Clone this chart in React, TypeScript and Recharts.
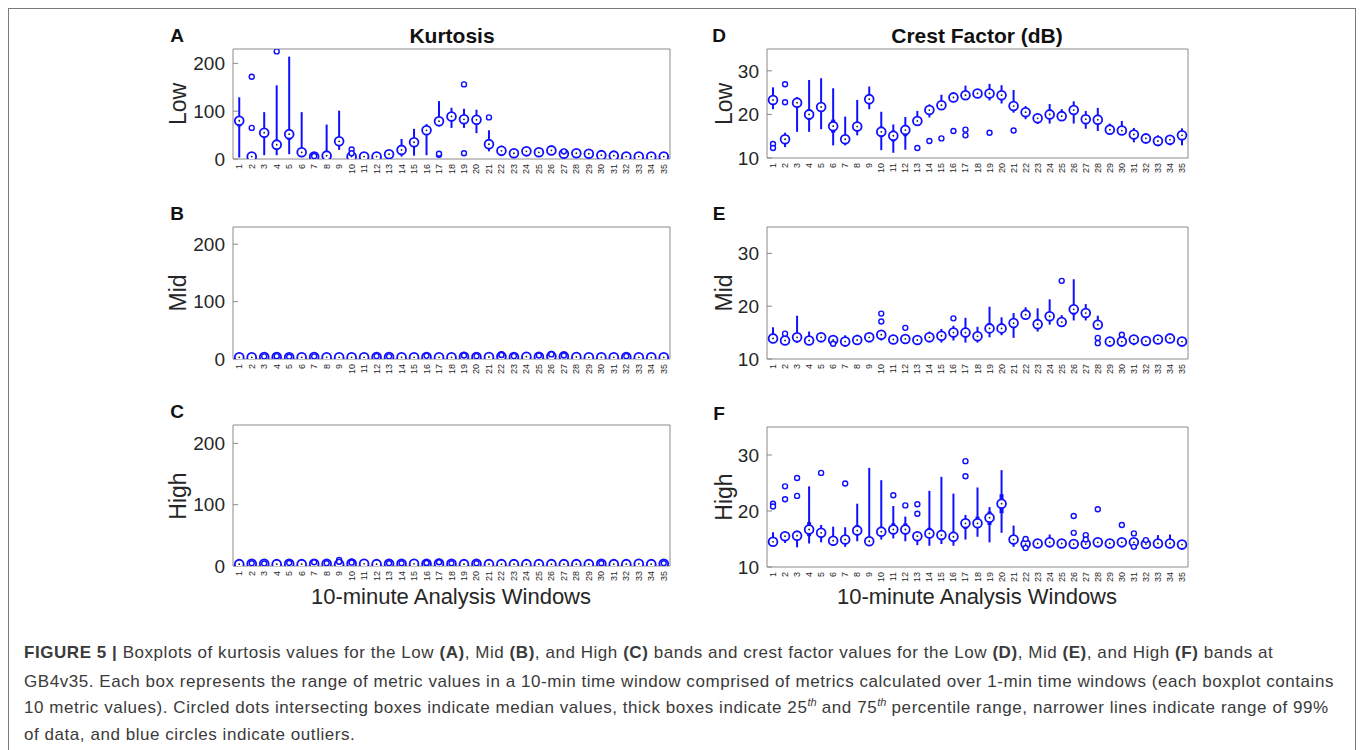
import React from "react";
import { ComposedChart, Scatter, ErrorBar, XAxis, YAxis } from "recharts";

// ---------- data ----------
const windows = Array.from({ length: 35 }, (_, i) => i + 1);
const kurtTicks = [0, 100, 200];
const crestTicks = [10, 20, 30];

// A: Kurtosis, Low band
const kLowMed = [80, 5, 55, 30, 52, 14, 5, 7, 37, 5, 5, 5, 10, 19, 35, 60, 79, 89, 83, 82, 31, 17, 12, 16, 14, 18, 11, 12, 11, 8, 7, 5, 5, 5, 5];
const kLowLo = [3, 2, 8, 8, 10, 8, 2, 2, 19, 2, 2, 3, 5, 5, 7, 8, 68, 65, 65, 54, 16, 11, 9, 11, 10, 13, 8, 9, 8, 6, 5, 3, 3, 3, 3];
const kLowHi = [129, 8, 98, 154, 214, 98, 6, 72, 101, 8, 7, 7, 15, 42, 63, 73, 121, 107, 105, 103, 60, 28, 15, 21, 18, 24, 15, 16, 14, 11, 9, 7, 7, 7, 7];
const kLowQ1 = [68, 3, 45, 20, 40, 10, 3, 5, 30, 3, 3, 4, 8, 14, 28, 50, 72, 80, 75, 72, 25, 15, 11, 14, 12, 16, 10, 11, 10, 7, 6, 4, 4, 4, 4];
const kLowQ3 = [88, 7, 62, 40, 60, 18, 6, 10, 45, 6, 6, 6, 12, 24, 42, 68, 88, 96, 92, 90, 38, 20, 13, 18, 16, 20, 13, 13, 12, 9, 8, 6, 6, 6, 6];
const kLowOut = [[2, 65], [2, 172], [4, 225], [7, 8], [7, 6], [10, 20], [10, 12], [17, 9], [17, 11], [19, 156], [19, 12], [21, 87], [27, 16]];

// B: Kurtosis, Mid band
const kMidMed = [3, 3, 3.5, 3.5, 3, 3, 3.5, 3, 3, 3, 3, 3.5, 3.5, 3, 3, 3.5, 3, 3, 4, 3.5, 3.5, 4.5, 3.5, 4, 4, 5, 4.5, 3.5, 3, 3, 3, 3.5, 3, 3, 3];
const kMidLo = [2.5, 2.5, 2.8, 2.8, 2.5, 2.5, 2.8, 2.5, 2.5, 2.5, 2.5, 2.8, 2.8, 2.5, 2.5, 2.8, 2.5, 2.5, 3, 2.8, 2.8, 3.5, 2.8, 3, 3, 3.5, 3.5, 2.8, 2.5, 2.5, 2.5, 2.8, 2.5, 2.5, 2.5];
const kMidHi = [4, 4, 5, 5, 4.5, 4, 5, 4, 4, 4, 4, 5, 5, 4, 4, 5, 4, 4, 5.5, 5, 5, 6, 5, 5.5, 5.5, 7, 6, 5, 4, 4, 4, 5, 4, 4, 4];
const kMidQ1 = [2.8, 2.8, 3.2, 3.2, 2.8, 2.8, 3.2, 2.8, 2.8, 2.8, 2.8, 3.2, 3.2, 2.8, 2.8, 3.2, 2.8, 2.8, 3.5, 3.2, 3.2, 4, 3.2, 3.5, 3.5, 4.2, 4, 3.2, 2.8, 2.8, 2.8, 3.2, 2.8, 2.8, 2.8];
const kMidQ3 = [3.3, 3.3, 4, 4, 3.5, 3.3, 4, 3.3, 3.3, 3.3, 3.3, 4, 4, 3.3, 3.3, 4, 3.3, 3.3, 4.6, 4, 4, 5.2, 4, 4.6, 4.6, 6, 5.2, 4, 3.3, 3.3, 3.3, 4, 3.3, 3.3, 3.3];
const kMidOut = [[3, 4.5], [4, 4], [4, 5], [5, 4], [7, 4.5], [12, 5], [13, 4.5], [16, 5.5], [19, 7], [19, 6], [20, 5], [22, 8], [22, 7], [23, 5], [25, 6], [26, 9], [26, 8], [27, 6], [32, 5]];

// C: Kurtosis, High band
const kHighMed = [3, 3.5, 3.5, 3, 3.5, 3, 3.5, 3.5, 3, 4, 3.5, 3, 3.5, 3.5, 3.5, 3.5, 4, 3.5, 3, 3.5, 3, 3, 3, 3, 3, 3, 3, 3, 3, 3.5, 3, 3, 3.5, 3, 3.5];
const kHighLo = [2.5, 2.8, 2.8, 2.5, 2.8, 2.5, 2.8, 2.8, 2.5, 3, 2.8, 2.5, 2.8, 2.8, 2.8, 2.8, 3, 2.8, 2.5, 2.8, 2.5, 2.5, 2.5, 2.5, 2.5, 2.5, 2.5, 2.5, 2.5, 2.8, 2.5, 2.5, 2.8, 2.5, 2.8];
const kHighHi = [4, 4.5, 4.5, 4, 4.5, 4, 5, 4.5, 4.5, 5.5, 4.5, 4, 4.5, 4.5, 4.5, 4.5, 5.5, 4.5, 4, 4.5, 4, 4, 4, 4, 4, 4, 4, 4, 4, 4.5, 4, 4, 4.5, 4, 4.5];
const kHighQ1 = [2.8, 3.2, 3.2, 2.8, 3.2, 2.8, 3.2, 3.2, 2.8, 3.5, 3.2, 2.8, 3.2, 3.2, 3.2, 3.2, 3.5, 3.2, 2.8, 3.2, 2.8, 2.8, 2.8, 2.8, 2.8, 2.8, 2.8, 2.8, 2.8, 3.2, 2.8, 2.8, 3.2, 2.8, 3.2];
const kHighQ3 = [3.3, 4, 4, 3.3, 4, 3.3, 4.2, 4, 3.6, 4.6, 4, 3.3, 4, 4, 4, 4, 4.6, 4, 3.3, 4, 3.3, 3.3, 3.3, 3.3, 3.3, 3.3, 3.3, 3.3, 3.3, 4, 3.3, 3.3, 4, 3.3, 4];
const kHighOut = [[2, 4.5], [3, 4], [5, 5], [7, 6], [8, 4.5], [9, 10], [9, 7], [10, 7], [10, 5.5], [13, 4.5], [14, 4.5], [16, 4.5], [16, 5], [17, 7], [17, 6], [18, 4.5], [20, 4.5], [30, 4.5], [35, 4.5]];

// D: Crest factor, Low band
const cLowMed = [23.3, 14.3, 22.7, 20.0, 21.7, 17.3, 14.3, 17.2, 23.5, 16.0, 15.1, 16.4, 18.5, 21.0, 22.1, 23.9, 24.4, 24.8, 24.8, 24.4, 21.9, 20.5, 19.1, 20.0, 19.6, 21.0, 18.9, 18.8, 16.5, 16.3, 15.4, 14.5, 13.9, 14.2, 15.2];
const cLowLo = [21.2, 12.5, 16.0, 16.0, 16.6, 12.9, 12.9, 15.2, 21.2, 11.8, 11.2, 11.9, 17.5, 19.3, 21.2, 22.9, 23.5, 23.9, 23.2, 22.5, 20.4, 18.9, 17.8, 17.9, 18.5, 17.9, 16.7, 16.2, 15.9, 15.4, 13.6, 13.3, 12.7, 12.9, 12.9];
const cLowHi = [26.2, 15.8, 23.9, 27.9, 28.3, 26.0, 19.5, 23.3, 26.4, 20.6, 17.7, 19.4, 20.8, 22.3, 24.5, 24.7, 26.6, 25.6, 27.0, 26.7, 25.6, 21.9, 20.2, 22.4, 21.2, 23.0, 20.8, 21.5, 17.9, 18.5, 16.9, 15.6, 15.2, 15.1, 16.8];
const cLowQ1 = [22.5, 13.6, 21.8, 18.8, 20.8, 15.8, 13.6, 16.4, 22.7, 14.8, 13.8, 15.0, 17.9, 20.4, 21.6, 23.4, 23.9, 24.4, 24.2, 23.6, 21.2, 19.9, 18.6, 19.3, 19.1, 20.0, 18.1, 17.9, 16.1, 15.9, 14.9, 14.0, 13.5, 13.8, 14.5];
const cLowQ3 = [24.1, 15.0, 23.3, 21.2, 22.6, 18.8, 15.0, 18.3, 24.3, 17.2, 16.3, 17.6, 19.2, 21.6, 22.7, 24.4, 25.0, 25.2, 25.5, 25.2, 22.8, 21.1, 19.6, 20.8, 20.1, 21.9, 19.7, 19.8, 17.0, 16.9, 16.0, 15.0, 14.4, 14.6, 16.0];
const cLowOut = [[1, 13.2], [1, 12.3], [2, 26.9], [2, 22.8], [13, 12.3], [14, 13.9], [15, 14.5], [16, 16.2], [17, 16.5], [17, 15.2], [19, 15.8], [21, 16.3]];

// E: Crest factor, Mid band
const cMidMed = [13.9, 13.5, 14.1, 13.5, 14.1, 13.6, 13.3, 13.6, 14.1, 14.6, 13.7, 13.8, 13.6, 14.1, 14.4, 15.0, 15.0, 14.3, 15.8, 15.8, 16.8, 18.4, 16.6, 18.1, 17.0, 19.4, 18.7, 16.5, 13.3, 13.3, 13.7, 13.4, 13.7, 13.9, 13.3];
const cMidLo = [13.4, 13.0, 13.1, 13.0, 13.6, 13.2, 12.9, 12.9, 13.6, 13.5, 13.1, 13.3, 13.2, 13.5, 13.1, 13.5, 13.1, 13.1, 14.1, 14.5, 14.0, 17.9, 15.2, 16.5, 16.3, 17.3, 17.3, 15.7, 13.0, 12.9, 12.6, 13.0, 13.3, 13.5, 13.0];
const cMidHi = [16.0, 14.3, 18.2, 15.2, 15.0, 14.0, 14.5, 14.6, 15.0, 15.5, 14.6, 14.3, 14.2, 15.2, 15.7, 16.3, 17.8, 16.1, 19.9, 17.9, 18.7, 19.8, 19.6, 21.3, 18.3, 25.1, 20.4, 18.2, 13.7, 13.7, 14.3, 13.8, 14.2, 14.2, 13.6];
const cMidQ1 = [13.6, 13.2, 13.7, 13.2, 13.8, 13.4, 13.1, 13.3, 13.8, 14.1, 13.4, 13.5, 13.4, 13.8, 14.0, 14.4, 14.3, 13.8, 14.9, 15.2, 16.0, 17.9, 15.9, 17.3, 16.6, 18.4, 18.1, 16.0, 13.1, 13.1, 13.4, 13.2, 13.5, 13.7, 13.1];
const cMidQ3 = [14.3, 13.8, 14.6, 13.8, 14.4, 13.8, 13.6, 13.9, 14.4, 15.1, 14.0, 14.1, 13.9, 14.4, 14.9, 15.6, 15.9, 14.9, 16.8, 16.6, 17.6, 19.0, 17.3, 18.9, 17.5, 20.2, 19.3, 17.2, 13.5, 13.5, 14.0, 13.6, 13.9, 14.1, 13.5];
const cMidOut = [[2, 14.8], [6, 12.9], [10, 18.6], [10, 17.1], [12, 15.9], [16, 17.7], [25, 24.8], [28, 14.0], [28, 13.0], [30, 14.6]];

// F: Crest factor, High band
const cHighMed = [14.5, 15.5, 15.6, 16.7, 16.1, 14.7, 14.9, 16.5, 14.6, 16.3, 16.7, 16.7, 15.5, 16.0, 15.7, 15.4, 17.8, 17.8, 18.8, 21.3, 14.9, 14.1, 14.2, 14.4, 14.2, 14.1, 14.1, 14.4, 14.2, 14.4, 14.4, 14.1, 14.2, 14.2, 14.0];
const cHighLo = [13.9, 14.3, 13.5, 14.2, 14.4, 13.8, 13.6, 14.6, 13.8, 14.9, 15.1, 14.6, 13.9, 13.8, 14.1, 13.8, 14.9, 15.4, 14.4, 16.1, 13.6, 13.7, 13.8, 13.9, 13.8, 13.8, 13.8, 13.9, 13.8, 13.9, 13.9, 13.8, 13.8, 13.8, 13.7];
const cHighHi = [16.2, 16.3, 16.0, 24.4, 17.5, 17.2, 17.1, 21.3, 27.7, 25.5, 20.9, 19.0, 16.3, 23.6, 26.1, 23.1, 19.3, 24.2, 20.7, 27.3, 17.4, 14.8, 14.8, 15.8, 14.9, 14.5, 14.5, 14.8, 14.9, 14.8, 14.8, 14.5, 15.7, 15.8, 14.3];
const cHighQ1 = [14.1, 14.9, 15.0, 15.5, 15.5, 14.3, 14.4, 15.8, 14.2, 15.6, 16.0, 15.9, 15.0, 15.2, 15.0, 14.7, 16.8, 17.0, 17.5, 19.6, 14.3, 13.9, 14.0, 14.1, 14.0, 14.0, 14.0, 14.1, 14.0, 14.1, 14.1, 13.9, 14.0, 14.0, 13.8];
const cHighQ3 = [15.0, 16.0, 16.2, 18.0, 16.7, 15.3, 15.5, 17.5, 15.4, 17.2, 17.8, 17.8, 16.1, 17.0, 16.6, 16.3, 18.5, 19.0, 19.9, 23.0, 15.5, 14.4, 14.5, 14.8, 14.5, 14.3, 14.3, 14.6, 14.5, 14.7, 14.7, 14.3, 14.6, 14.6, 14.2];
const cHighOut = [[1, 21.3], [1, 20.8], [2, 24.4], [2, 22.1], [3, 25.9], [3, 22.7], [5, 26.8], [7, 24.9], [11, 22.8], [12, 21.0], [13, 21.2], [13, 19.5], [17, 28.9], [17, 26.2], [22, 15.0], [22, 13.4], [26, 19.1], [26, 16.1], [27, 15.7], [27, 14.9], [28, 20.3], [30, 17.5], [31, 16.0], [31, 13.6], [32, 14.8]];

// ---------- styles ----------
const BLUE = "#1010ff";
const FRAME = "#8a8a8a";
const TEXT = "#262626";
const FONT = "'Liberation Sans', Arial, Helvetica, sans-serif";

const MedianDot = (props: any) => {
  const { cx, cy } = props;
  if (cx == null || cy == null) return null;
  return (
    <g>
      <circle cx={cx} cy={cy} r={4.4} fill="#ffffff" stroke={BLUE} strokeWidth={1.8} />
      <circle cx={cx} cy={cy} r={0.9} fill="#222" />
    </g>
  );
};

const OutDot = (props: any) => {
  const { cx, cy } = props;
  if (cx == null || cy == null) return null;
  return <circle cx={cx} cy={cy} r={2.5} fill="#ffffff" stroke={BLUE} strokeWidth={1.4} />;
};

const NoDot = () => null;

const XTick = (props: any) => {
  const { x, y, payload } = props;
  return (
    <text
      x={x}
      y={y}
      transform={`rotate(-90 ${x} ${y})`}
      textAnchor="end"
      dominantBaseline="central"
      fontSize={9}
      fontFamily={FONT}
      fill={TEXT}
    >
      {payload.value}
    </text>
  );
};

type PanelCfg = {
  axL: number; axR: number; axT: number; axB: number;
  domain: [number, number]; ticks: number[];
  med: number[]; lo: number[]; hi: number[]; q1: number[]; q3: number[];
  out: number[][];
};

const Panel = ({ cfg }: { cfg: PanelCfg }) => {
  const { axL, axR, axT, axB, domain, ticks, med, lo, hi, q1, q3, out } = cfg;
  const YW = 60;
  const XH = 30;
  const width = YW + (axR - axL) + 2;
  const height = 1 + (axB - axT) + XH;
  const data = windows.map((w, i) => ({
    x: w,
    med: med[i],
    wErr: [med[i] - lo[i], hi[i] - med[i]],
    bErr: [med[i] - q1[i], q3[i] - med[i]],
  }));
  const outData = out.map(([w, v]) => ({ x: w, y: v }));
  return (
    <div style={{ position: "absolute", left: axL - YW, top: axT - 1 }}>
      <ComposedChart width={width} height={height} margin={{ top: 0, right: 1, left: 0, bottom: 0 }}>
        <XAxis
          xAxisId="b"
          dataKey="x"
          type="number"
          domain={[0.5, 35.5]}
          allowDataOverflow
          ticks={windows}
          interval={0}
          tickSize={0}
          tickMargin={5}
          tick={<XTick />}
          axisLine={{ stroke: FRAME }}
          tickLine={false}
          height={XH}
        />
        <XAxis
          xAxisId="t"
          dataKey="x"
          orientation="top"
          type="number"
          domain={[0.5, 35.5]}
          allowDataOverflow
          tick={false}
          tickLine={false}
          height={1}
          axisLine={{ stroke: FRAME }}
        />
        <YAxis
          yAxisId="l"
          type="number"
          domain={domain}
          allowDataOverflow
          ticks={ticks}
          width={YW}
          tickSize={-5}
          tickMargin={13}
          tickLine={{ stroke: FRAME }}
          axisLine={{ stroke: FRAME }}
          tick={{ fontSize: 19, fill: TEXT, fontFamily: FONT }}
        />
        <YAxis
          yAxisId="r"
          orientation="right"
          type="number"
          domain={domain}
          allowDataOverflow
          ticks={ticks}
          width={1}
          tickSize={-5}
          tickLine={{ stroke: FRAME }}
          axisLine={{ stroke: FRAME }}
          tick={false}
        />
        {/* invisible series tying the frame axes to the data */}
        <Scatter xAxisId="t" yAxisId="r" data={data} dataKey="med" shape={NoDot} isAnimationActive={false} />
        <Scatter xAxisId="b" yAxisId="l" data={data} dataKey="med" shape={MedianDot} isAnimationActive={false}>
          <ErrorBar dataKey="wErr" direction="y" width={0} strokeWidth={2} stroke={BLUE} isAnimationActive={false} />
          <ErrorBar dataKey="bErr" direction="y" width={0} strokeWidth={4} stroke={BLUE} isAnimationActive={false} />
        </Scatter>
        <Scatter xAxisId="b" yAxisId="l" data={outData} dataKey="y" shape={OutDot} isAnimationActive={false} />
      </ComposedChart>
    </div>
  );
};

const Abs = ({ x, y, children, style }: any) => (
  <div
    style={{
      position: "absolute",
      left: x,
      top: y,
      transform: "translate(-50%, -50%)",
      whiteSpace: "nowrap",
      fontFamily: FONT,
      lineHeight: 1,
      ...style,
    }}
  >
    {children}
  </div>
);

const RotLabel = ({ x, y, text }: any) => (
  <div
    style={{
      position: "absolute",
      left: x,
      top: y,
      transform: "translate(-50%, -50%) rotate(-90deg)",
      whiteSpace: "nowrap",
      fontFamily: FONT,
      fontSize: 23,
      lineHeight: 1,
      color: TEXT,
    }}
  >
    {text}
  </div>
);

const panels: { cfg: PanelCfg; letter: string; band: string }[] = [
  { letter: "A", band: "Low", cfg: { axL: 233, axR: 670, axT: 49, axB: 159, domain: [0, 230], ticks: kurtTicks, med: kLowMed, lo: kLowLo, hi: kLowHi, q1: kLowQ1, q3: kLowQ3, out: kLowOut } },
  { letter: "B", band: "Mid", cfg: { axL: 233, axR: 670, axT: 227, axB: 359, domain: [0, 230], ticks: kurtTicks, med: kMidMed, lo: kMidLo, hi: kMidHi, q1: kMidQ1, q3: kMidQ3, out: kMidOut } },
  { letter: "C", band: "High", cfg: { axL: 233, axR: 670, axT: 425, axB: 566, domain: [0, 230], ticks: kurtTicks, med: kHighMed, lo: kHighLo, hi: kHighHi, q1: kHighQ1, q3: kHighQ3, out: kHighOut } },
  { letter: "D", band: "Low", cfg: { axL: 767, axR: 1188, axT: 49, axB: 158, domain: [10, 35], ticks: crestTicks, med: cLowMed, lo: cLowLo, hi: cLowHi, q1: cLowQ1, q3: cLowQ3, out: cLowOut } },
  { letter: "E", band: "Mid", cfg: { axL: 767, axR: 1188, axT: 227, axB: 359, domain: [10, 35], ticks: crestTicks, med: cMidMed, lo: cMidLo, hi: cMidHi, q1: cMidQ1, q3: cMidQ3, out: cMidOut } },
  { letter: "F", band: "High", cfg: { axL: 767, axR: 1188, axT: 427, axB: 567, domain: [10, 35], ticks: crestTicks, med: cHighMed, lo: cHighLo, hi: cHighHi, q1: cHighQ1, q3: cHighQ3, out: cHighOut } },
];

const captionStyle: React.CSSProperties = {
  position: "absolute",
  left: 24,
  whiteSpace: "nowrap",
  fontFamily: FONT,
  fontSize: 17,
  letterSpacing: "0.55px",
  lineHeight: "20px",
  color: "#3a3a3a",
};

const supStyle: React.CSSProperties = { fontSize: 11, fontStyle: "italic", lineHeight: 0, letterSpacing: 0 };

export default function App() {
  return (
    <div>
      <div
        style={{
          position: "absolute",
          left: 8,
          top: 8,
          width: 1348,
          height: 742,
          boxSizing: "border-box",
          borderTop: "1px solid #7a7a7a",
          borderLeft: "1px solid #7a7a7a",
          borderRight: "1px solid #7a7a7a",
        }}
      />
      {panels.map((p) => {
        const { axL, axT, axB } = p.cfg;
        const left = axL < 500;
        return (
          <React.Fragment key={p.letter}>
            <Panel cfg={p.cfg} />
            <Abs x={left ? 177 : 719} y={axT - 14} style={{ fontSize: 19, fontWeight: 700, color: "#111" }}>
              {p.letter}
            </Abs>
            <RotLabel x={left ? 178 : 724} y={(axT + axB) / 2} text={p.band} />
          </React.Fragment>
        );
      })}
      <Abs x={452} y={35} style={{ fontSize: 21, fontWeight: 700, color: "#111" }}>Kurtosis</Abs>
      <Abs x={977} y={35} style={{ fontSize: 21, fontWeight: 700, color: "#111" }}>Crest Factor (dB)</Abs>
      <Abs x={451} y={597} style={{ fontSize: 22, color: TEXT }}>10-minute Analysis Windows</Abs>
      <Abs x={977} y={597} style={{ fontSize: 22, color: TEXT }}>10-minute Analysis Windows</Abs>

      <div style={{ ...captionStyle, top: 643 }}>
        <b>FIGURE 5 |</b> Boxplots of kurtosis values for the Low <b>(A)</b>, Mid <b>(B)</b>, and High <b>(C)</b> bands and crest factor values for the Low <b>(D)</b>, Mid <b>(E)</b>, and High <b>(F)</b> bands at
      </div>
      <div style={{ ...captionStyle, top: 672 }}>
        GB4v35. Each box represents the range of metric values in a 10-min time window comprised of metrics calculated over 1-min time windows (each boxplot contains
      </div>
      <div style={{ ...captionStyle, top: 698 }}>
        10 metric values). Circled dots intersecting boxes indicate median values, thick boxes indicate 25<sup style={supStyle}>th</sup> and 75<sup style={supStyle}>th</sup> percentile range, narrower lines indicate range of 99%
      </div>
      <div style={{ ...captionStyle, top: 725 }}>
        of data, and blue circles indicate outliers.
      </div>
    </div>
  );
}
